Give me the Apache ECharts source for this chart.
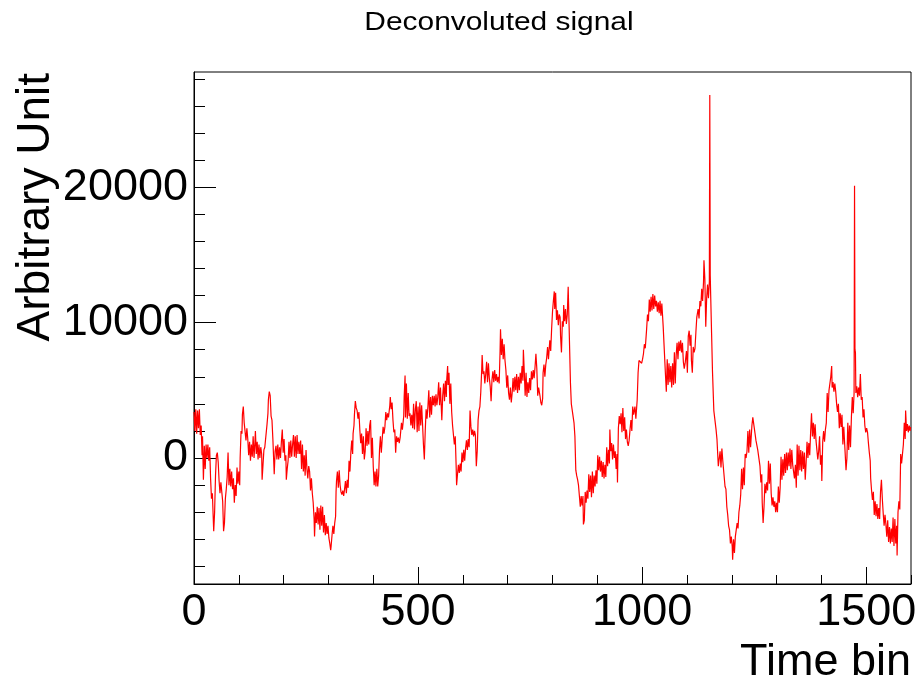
<!DOCTYPE html>
<html><head><meta charset="utf-8">
<script src="https://cdn.jsdelivr.net/npm/echarts@6/dist/echarts.min.js"></script>
<style>html,body{margin:0;padding:0;background:#fff}#c{width:921px;height:686px}</style>
</head><body><div id="c"></div>
<script>
const chartTitle = 'Deconvoluted signal';
const xTitle = 'Time bin';
const yTitle = 'Arbitrary Unit';
const xRange = [0, 1600];
const yRange = [-9300, 28500];
const xMajorTicks = [0, 500, 1000, 1500];
const xMinorTicks = [100,200,300,400,600,700,800,900,1100,1200,1300,1400,1600];
const yMajorTicks = [0, 10000, 20000];
const yMinorTicks = [-8000,-6000,-4000,-2000,2000,4000,6000,8000,12000,14000,16000,18000,22000,24000,26000,28000];

// [time bin, amplitude]
const signal = [
[0,3400],[2,2000],[4,3600],[6,1800],[8,3500],[10,2200],[12,3600],[14,1700],[16,2400],[18,200],[19,1600],[21,-1600],[23,900],[25,-800],[27,1000],[29,0],[31,1000],[33,-200],[35,800],[37,-1500],[39,-3000],[41,-2600],[43,-4500],[44,-5400],[46,-4000],[48,-1300],[50,200],[52,400],[54,-300],[56,-1700],[58,-2600],[60,-1800],[62,-2500],[64,-3200],[66,-5400],[68,-4800],[70,-3000],[72,-2300],[74,-1400],[76,400],[78,-2000],[80,-800],[82,-2100],[84,-1000],[86,-2300],[88,-1500],[90,-3300],[92,-2000],[94,-2800],[96,-700],[98,-1900],[100,-1000],[102,-2000],[103,0],[105,2000],[107,1800],[108,3200],[110,3800],[112,2600],[114,2500],[116,1300],[118,2200],[120,1400],[122,200],[124,1200],[126,-200],[128,1000],[130,100],[132,1600],[134,0],[136,1200],[137,2000],[139,300],[141,1200],[143,-100],[145,1000],[147,0],[149,800],[151,300],[152,-1600],[154,-500],[156,600],[158,800],[161,900],[163,2500],[165,3300],[166,4300],[168,4900],[170,4600],[172,3100],[174,2800],[176,1400],[179,-1200],[181,500],[183,900],[185,-100],[187,1000],[189,-100],[191,800],[193,0],[195,1200],[197,2100],[199,400],[201,1400],[203,-200],[205,200],[206,-1600],[208,-800],[210,-200],[212,1200],[214,0],[216,1300],[218,100],[220,1000],[222,1700],[224,100],[226,1600],[228,0],[230,1700],[232,300],[234,1200],[236,300],[238,1300],[240,-800],[242,1000],[244,-1000],[246,200],[248,-1300],[250,600],[252,-800],[254,-1500],[256,-600],
[258,-1000],[260,-2400],[262,-1500],[264,-2600],[266,-3300],[268,-4500],[269,-5800],[271,-4000],[273,-4800],[275,-3600],[277,-4900],[279,-3700],[281,-5300],[283,-3500],[285,-5000],[287,-3600],[289,-5500],[291,-4200],[293,-5700],[295,-4800],[297,-5600],[299,-5000],[301,-5900],[303,-6300],[305,-6800],[306,-6500],[308,-5700],[310,-5000],[312,-5600],[314,-4800],[316,-4300],[317,-2500],[318,-1700],[320,-1000],[322,-2200],[324,-900],[326,-2000],[328,-2500],[330,-2700],[332,-2400],[334,-2800],[336,-2300],[338,-1700],[340,-2600],[342,-1600],[344,-2200],[346,-200],[348,-1000],[350,400],[352,1300],[354,300],[355,1800],[357,2400],[358,3200],[360,4200],[362,3700],[364,3500],[366,2900],[368,3400],[370,2100],[372,1100],[374,1800],[376,300],[378,1600],[380,-100],[382,500],[384,2200],[386,900],[388,2000],[390,1000],[392,2400],[394,2800],[396,0],[398,1500],[400,-600],[402,-2000],[404,-1000],[406,-2100],[408,-800],[410,-2100],[412,-1300],[414,600],[416,1600],[418,400],[420,1400],[422,2300],[424,1800],[426,2300],[428,3400],[430,2800],[432,3300],[434,3000],[437,3900],[438,4500],[440,3600],[442,4100],[444,2800],[446,1900],[448,2100],[450,400],[452,1600],[454,1200],[456,1500],[458,1100],[460,1500],[463,2600],[465,2100],[468,3100],[469,4500],[471,6100],[472,3000],[474,5500],[476,2900],[478,4800],[480,3100],[482,3300],[484,2400],[486,3200],[488,2200],[490,4000],[492,2100],[494,3600],[496,4200],[498,1900],[500,3800],[502,2000],[504,4100],[506,2400],[508,3900],[510,2500],[512,1000],[514,-100],[516,2000],[518,3600],[520,2900],[522,3800],[524,5000],[526,3000],[528,4500],
[530,3200],[532,4600],[534,3900],[536,4600],[538,3800],[540,4700],[542,3900],[544,4500],[546,5600],[548,3900],[550,5200],[553,2800],[555,4600],[557,5500],[559,4200],[561,5700],[563,4500],[564,5800],[566,6800],[567,5400],[569,6300],[571,4000],[573,5500],[575,3400],[577,2400],[579,2500],[581,1000],[583,1600],[585,-600],[586,-2000],[588,-1200],[590,-500],[592,-1100],[594,-400],[596,-1000],[598,400],[600,-300],[602,600],[604,-200],[606,700],[608,1300],[610,600],[612,1400],[614,800],[616,3500],[618,2300],[620,1700],[622,2100],[624,1600],[626,2000],[628,1700],[630,-600],[632,500],[634,2800],[636,3500],[638,3800],[640,4900],[642,6500],[643,7600],[645,6200],[647,6400],[649,5500],[651,6200],[653,7100],[655,5600],[657,7000],[659,5900],[661,5300],[663,4200],[665,5800],[667,6400],[669,5600],[671,6500],[673,5700],[675,6200],[677,5600],[679,6000],[681,5500],[683,7900],[684,9500],[686,7600],[688,8800],[690,7300],[692,8400],[694,7200],[696,6500],[698,5200],[700,6100],[702,4800],[704,4300],[706,5200],[708,4100],[710,4800],[712,5900],[714,4900],[716,6000],[718,5000],[720,6200],[722,4800],[724,6000],[726,5000],[728,6300],[730,5500],[732,6800],[734,5700],[735,8000],[737,6400],[739,4600],[741,6300],[743,4500],[745,5600],[747,4800],[749,5900],[751,5000],[753,6400],[755,5800],[757,6500],[759,5900],[761,6700],[763,7700],[765,6600],[767,4600],[769,5200],[772,4600],[774,4100],[776,3900],[778,4400],[779,6300],[781,6900],[783,6000],[785,6900],[787,7400],[789,8200],[791,7300],
[794,8700],[796,7900],[798,9500],[800,10800],[802,11600],[804,12300],[805,11000],[807,12200],[809,10200],[811,10900],[813,9800],[815,10600],[817,10400],[818,9000],[820,7800],[822,10100],[824,9700],[825,11300],[827,10100],[829,11000],[831,9900],[833,10600],[835,12650],[837,9800],[839,9800],[840,5600],[842,4000],[844,3900],[846,4100],[848,2600],[850,1600],[852,-900],[854,-1300],[856,-1600],[858,-2000],[860,-2800],[862,-3600],[864,-2800],[866,-3500],[868,-2800],[869,-4900],[871,-4600],[873,-2500],[875,-3300],[877,-2400],[879,-3000],[881,-1200],[883,-2500],[885,-1300],[887,-2900],[889,-1000],[891,-2600],[893,-1300],[895,-2100],[897,-900],[899,-1900],[901,200],[903,-900],[905,100],[907,-1000],[909,-200],[911,-1400],[913,-300],[915,-1500],[917,-500],[919,-1400],[921,800],[923,-600],[925,600],[927,-400],[928,2100],[930,500],[932,1100],[934,-100],[936,1000],[938,0],[940,500],[942,-800],[944,300],[945,-1800],[947,2200],[949,3100],[951,2500],[953,3300],[955,1900],[957,3700],[959,2000],[961,3000],[963,1400],[965,2100],[967,1200],[969,900],[971,1300],[973,2100],[975,2800],[977,2000],[979,3800],[981,3200],[984,3800],[986,2900],[989,4300],[991,6300],[993,7200],[995,7100],[997,7300],[999,7000],[1001,7300],[1003,7700],[1005,8400],[1007,8100],[1010,9500],[1012,10600],[1014,10100],[1016,11700],[1018,10800],[1020,11900],[1022,10900],[1024,12100],[1026,11000],[1028,12000],[1030,11200],[1032,11600],[1034,10800],[1036,11500],[1038,10700],[1040,11600],[1042,10500],[1044,11400],[1047,9700],[1049,8300],[1051,8200],[1052,6200],[1054,4900],[1056,7300],[1058,5400],[1060,7000],[1062,5600],[1064,6800],
[1066,5200],[1068,7000],[1070,5400],[1072,7800],[1074,5500],[1076,7600],[1078,8500],[1080,7300],[1082,8600],[1084,7900],[1086,8700],[1088,7800],[1090,8500],[1092,7100],[1094,6600],[1096,7000],[1099,7900],[1101,6300],[1103,9000],[1105,9400],[1107,8300],[1109,9100],[1110,7200],[1112,6300],[1114,8200],[1116,7800],[1118,8100],[1120,9300],[1122,10400],[1125,11000],[1127,10300],[1129,11600],[1131,11200],[1133,12500],[1135,11600],[1137,13000],[1138,14600],[1140,13200],[1142,9700],[1144,11800],[1146,12800],[1148,11800],[1150,13000],[1151,26800],[1152,13500],[1153,12000],[1155,9200],[1157,6400],[1160,3500],[1162,3400],[1165,2100],[1167,1400],[1170,-600],[1172,-500],[1174,500],[1176,-700],[1178,700],[1180,-200],[1182,-100],[1185,-2100],[1187,-2300],[1189,-3600],[1191,-4200],[1193,-5000],[1195,-5300],[1197,-6300],[1199,-5800],[1201,-6500],[1202,-7500],[1204,-6000],[1206,-7000],[1208,-5800],[1210,-5700],[1212,-4800],[1214,-5200],[1216,-4000],[1218,-3500],[1220,-2700],[1222,-800],[1224,-2300],[1226,-700],[1228,-2000],[1230,300],[1232,0],[1234,500],[1236,2000],[1238,400],[1240,2100],[1242,800],[1245,2400],[1247,3000],[1249,3100],[1252,1800],[1254,1300],[1258,600],[1260,500],[1263,-600],[1265,-1800],[1267,-1200],[1268,-3300],[1270,-4800],[1272,-3600],[1274,-1900],[1276,-2600],[1278,-1800],[1280,-2400],[1282,-200],[1284,-1900],[1286,-400],[1288,-2600],[1290,-3500],[1292,-2900],[1294,-3600],[1296,-3200],[1298,-4000],[1300,-3300],[1302,-4000],[1304,-2100],[1306,-3300],[1308,-2200],[1310,100],[1312,-1600],[1314,-100],[1316,-1300],[1318,300],[1320,-1100],[1322,400],[1324,-900],[1326,400],[1328,-600],
[1330,700],[1332,-800],[1334,600],[1336,-500],[1338,-600],[1340,-1500],[1342,-500],[1344,-2200],[1346,1000],[1348,-1300],[1350,900],[1352,-900],[1354,600],[1356,-1000],[1358,500],[1360,-800],[1362,400],[1364,-1600],[1366,-300],[1368,1200],[1370,0],[1372,1100],[1374,200],[1376,1900],[1378,3300],[1380,1600],[1382,2600],[1384,1400],[1386,2500],[1388,1300],[1390,600],[1392,-100],[1394,500],[1396,1600],[1398,-500],[1400,200],[1401,-1700],[1403,1200],[1405,2000],[1407,1200],[1409,2100],[1411,2600],[1413,4800],[1415,3400],[1417,5000],[1419,4900],[1421,6000],[1423,6800],[1424,5200],[1426,5600],[1428,4900],[1430,5500],[1432,4900],[1434,4000],[1436,3400],[1438,4000],[1440,2200],[1442,3300],[1444,2300],[1446,3200],[1448,1000],[1450,2300],[1453,400],[1455,-900],[1457,0],[1459,2600],[1461,600],[1463,2400],[1465,800],[1467,3000],[1469,4500],[1471,3300],[1473,4800],[1474,20100],[1475,8000],[1476,7800],[1477,4800],[1479,5300],[1481,4500],[1483,5200],[1485,4600],[1487,6200],[1489,4300],[1491,4500],[1493,3000],[1495,3600],[1497,2400],[1499,1900],[1501,2200],[1503,1900],[1505,1100],[1507,400],[1509,-200],[1510,-1500],[1512,-2400],[1514,-3100],[1516,-2500],[1518,-4200],[1520,-3200],[1522,-4300],[1524,-3400],[1526,-4500],[1528,-3700],[1530,-4500],[1532,-2500],[1534,-1600],[1536,-3000],[1538,-4100],[1540,-5000],[1542,-4200],[1544,-4900],[1546,-5800],[1548,-4600],[1550,-6200],[1552,-5100],[1554,-6300],[1556,-5200],[1558,-6200],[1560,-4400],[1562,-6500],[1564,-4500],[1566,-6300],[1568,-5000],[1569,-7200],[1571,-4000],[1573,-3200],[1575,-3800],[1577,300],[1579,-400],[1581,300],[1583,1000],[1585,2600],[1587,1400],[1588,3500],[1590,2000],[1592,2500],[1594,1900],[1596,2400],[1598,2000],[1599,2300]
];

const FONT = '"Liberation Sans", Arial, Helvetica, sans-serif';
const black = '#000';
const plain = v => String(v);

const chart = echarts.init(document.getElementById('c'), null, {renderer: 'canvas'});
chart.setOption({
  animation: false,
  backgroundColor: '#fff',
  grid: {left: 194, right: 10, top: 72, bottom: 102, show: true, borderColor: black, borderWidth: 1, backgroundColor: 'transparent'},
  xAxis: [
    {type: 'value', min: xRange[0], max: xRange[1], position: 'bottom',
     axisLine: {show: true, onZero: false, lineStyle: {color: black, width: 1}},
     axisTick: {show: true, inside: true, length: 17, customValues: xMajorTicks, lineStyle: {color: black, width: 1}},
     axisLabel: {show: true, customValues: xMajorTicks, formatter: plain, fontSize: 45, fontFamily: FONT, color: black, margin: 6},
     splitLine: {show: false}},
    {type: 'value', min: xRange[0], max: xRange[1], position: 'bottom',
     axisLine: {show: false, onZero: false},
     axisTick: {show: true, inside: true, length: 9, customValues: xMinorTicks, lineStyle: {color: black, width: 1}},
     axisLabel: {show: false}, splitLine: {show: false}}
  ],
  yAxis: [
    {type: 'value', min: yRange[0], max: yRange[1], position: 'left',
     axisLine: {show: true, onZero: false, lineStyle: {color: black, width: 1}},
     axisTick: {show: true, inside: true, length: 22, customValues: yMajorTicks, lineStyle: {color: black, width: 1}},
     axisLabel: {show: true, customValues: yMajorTicks, formatter: plain, fontSize: 45, fontFamily: FONT, color: black, margin: 6},
     splitLine: {show: false}},
    {type: 'value', min: yRange[0], max: yRange[1], position: 'left',
     axisLine: {show: false, onZero: false},
     axisTick: {show: true, inside: true, length: 11, customValues: yMinorTicks, lineStyle: {color: black, width: 1}},
     axisLabel: {show: false}, splitLine: {show: false}}
  ],
  graphic: [
    {type: 'text', x: 499, y: 23, scaleX: 1.15,
     style: {text: chartTitle, font: '26px ' + FONT, fill: black, align: 'center', verticalAlign: 'middle', textAlign: 'center', textVerticalAlign: 'middle'}},
    {type: 'text', x: 911, y: 663,
     style: {text: xTitle, font: '45px ' + FONT, fill: black, align: 'right', verticalAlign: 'middle', textAlign: 'right', textVerticalAlign: 'middle'}},
    {type: 'text', x: 36, y: 73, rotation: Math.PI / 2,
     style: {text: yTitle, font: '46px ' + FONT, fill: black, align: 'right', verticalAlign: 'middle', textAlign: 'right', textVerticalAlign: 'middle'}}
  ],
  series: [{
    type: 'line', xAxisIndex: 0, yAxisIndex: 0, data: signal,
    showSymbol: false, symbol: 'none', smooth: false, sampling: null,
    lineStyle: {color: '#ff0000', width: 1.2}, clip: true, silent: true
  }]
});
</script></body></html>
